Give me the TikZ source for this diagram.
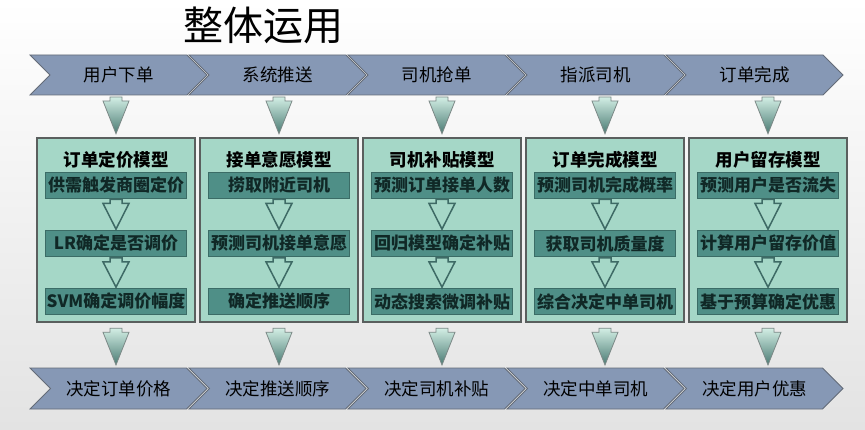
\documentclass[tikz,border=0pt]{standalone}
\usepackage{fontspec}
\setmainfont{Noto Sans CJK SC}
\usetikzlibrary{shapes.symbols,calc}
\definecolor{chevfill}{HTML}{8698B5}
\definecolor{chevline}{HTML}{646C78}
\definecolor{boxfill}{HTML}{A5D7C7}
\definecolor{boxline}{HTML}{5A5F5E}
\definecolor{innerfill}{HTML}{4F8F87}
\definecolor{innerline}{HTML}{3B6C66}
\definecolor{innertext}{HTML}{102826}
\definecolor{arrtop}{HTML}{D2EEE4}
\definecolor{arrbot}{HTML}{4A7A73}
\definecolor{arrline}{HTML}{7C8987}
\definecolor{hollowline}{HTML}{3E6A65}
\newcommand\blockarr[3]{%
  \path[#1] let \p1=(#2), \p2=(#3) in
    (\x1-6pt,\y1) -- (\x1+6pt,\y1) -- (\x1+6pt,\y1-4pt) -- (\x1+13pt,\y1-4pt)
    -- (\x2,\y2) -- (\x1-13pt,\y1-4pt) -- (\x1-6pt,\y1-4pt) -- cycle;}
\tikzset{
  chev/.style={shape=signal, signal to=east, signal from=west, signal pointer angle=90,
    minimum width=177pt, minimum height=40pt, inner sep=0pt, outer sep=0pt,
    fill=chevfill, draw=chevline, line width=0.8pt, font=\fontsize{17.5}{20}\selectfont, text=black},
  mbox/.style={rectangle, minimum width=158pt, minimum height=184pt, inner sep=0pt,
    fill=boxfill, draw=boxline, line width=2.5pt},
  mtitle/.style={inner sep=0pt, font=\fontsize{17.5}{20}\selectfont\bfseries, text=black},
  ibox/.style={rectangle, minimum width=141pt, minimum height=26pt, inner sep=0pt,
    fill=innerfill, draw=innerline, line width=0.8pt, text=innertext,
    font=\fontsize{17}{19}\selectfont\bfseries},
  fillarr/.style={top color=arrtop, bottom color=arrbot, draw=arrline, line width=0.8pt},
  hollowarr/.style={fill=boxfill, draw=hollowline, line width=1.5pt, line join=miter},
}
\begin{document}
\begin{tikzpicture}[x=1pt,y=-1pt]
\useasboundingbox (0,0) rectangle (865,430);
\shade[top color=white, bottom color=black!11] (0,0) rectangle (865,430);
\node[inner sep=0pt, font=\fontsize{40}{44}\selectfont] (title) at (263,25) {整体运用};
\foreach \i/\tp/\bt/\ti/\a/\b/\c in {
  1/用户下单/决定订单价格/订单定价模型/供需触发商圈定价/LR确定是否调价/SVM确定调价幅度,
  2/系统推送/决定推送顺序/接单意愿模型/捞取附近司机/预测司机接单意愿/确定推送顺序,
  3/司机抢单/决定司机补贴/司机补贴模型/预测订单接单人数/回归模型确定补贴/动态搜索微调补贴,
  4/指派司机/决定中单司机/订单完成模型/预测司机完成概率/获取司机质量度/综合决定中单司机,
  5/订单完成/决定用户优惠/用户留存模型/预测用户是否流失/计算用户留存价值/基于预算确定优惠}{
  \pgfmathsetmacro\cx{118.5+159*(\i-1)}
  \pgfmathsetmacro\bx{116+163*(\i-1)}
  \node[chev] (t\i) at (\cx,75) {\tp};
  \node[chev, minimum height=41pt] (b\i) at (\cx,388.5) {\bt};
  \node[mbox] (m\i) at (\bx,230) {};
  \node[mtitle] (h\i) at (\bx,160) {\ti};
  \node[ibox] (p\i) at (\bx,185) {\a};
  \node[ibox] (q\i) at (\bx,243.5) {\b};
  \node[ibox] (r\i) at (\bx,301.5) {\c};
  \blockarr{fillarr}{$(t\i.south -| m\i.north)+(0,2)$}{$(m\i.north)+(0,-3)$}
  \blockarr{fillarr}{$(m\i.south)+(0,5)$}{$(b\i.north -| m\i.south)+(0,-3)$}
  \blockarr{hollowarr}{$(p\i.south)+(0,1)$}{$(q\i.north)+(0,-1)$}
  \blockarr{hollowarr}{$(q\i.south)+(0,1)$}{$(r\i.north)+(0,-1)$}
}
\end{tikzpicture}
\end{document}
